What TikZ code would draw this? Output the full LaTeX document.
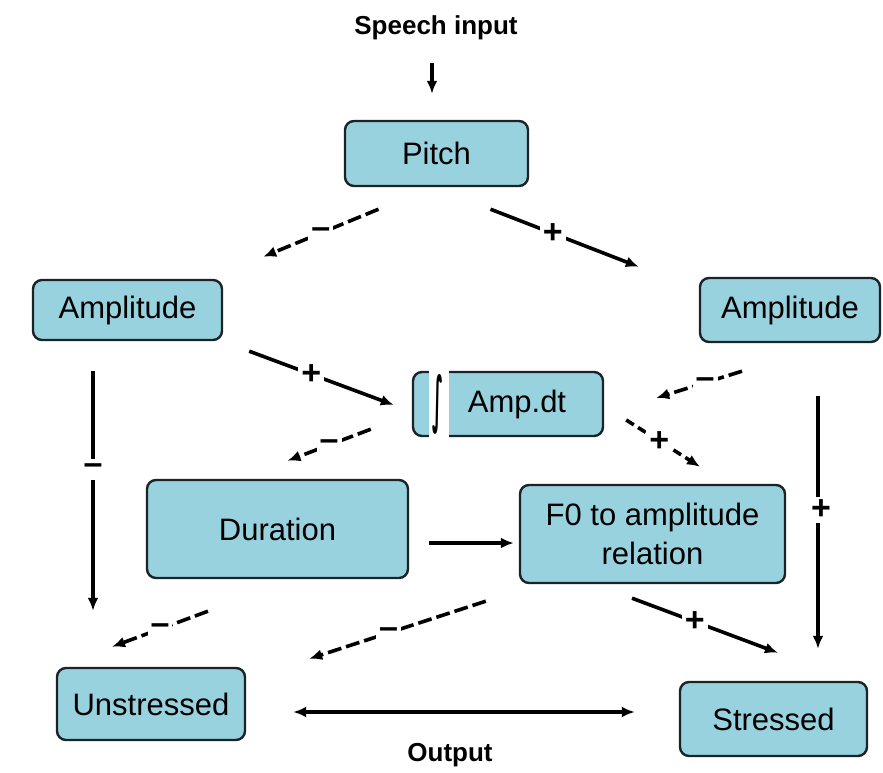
\documentclass[tikz,border=0pt]{standalone}
\usepackage{fontspec}
\setmainfont{Liberation Sans}
\newfontfamily\djvfont{DejaVu Sans Bold}
\usetikzlibrary{arrows.meta,calc}
\definecolor{boxfill}{RGB}{152,210,222}
\definecolor{boxline}{RGB}{25,35,40}
\begin{document}
\begin{tikzpicture}[x=1pt,y=1pt,
  box/.style={draw=boxline, fill=boxfill, line width=2.4pt, rounded corners=9pt,
    font=\fontsize{31}{39}\selectfont, inner sep=0pt, align=center},
  conn/.style={line width=3.6pt, draw=black, -{Latex[length=13pt,width=11pt]}},
  dsh/.style={conn, dash pattern=on 14pt off 5pt},
  sgn/.style={fill=white, inner sep=3pt, font=\bfseries\fontsize{34}{34}\selectfont},
  title/.style={inner sep=0pt, font=\bfseries\fontsize{26}{30}\selectfont}]
\useasboundingbox (0,0) rectangle (883,773);

% titles
\node[title] (speech) at (436,745) {Speech input};
\node[title] (output) at (450,18) {Output};

% boxes
\node[box, minimum width=183pt, minimum height=65pt] (pitch) at (436.5,619.5) {Pitch};
\node[box, minimum width=189pt, minimum height=60pt] (ampL) at (127.5,463) {Amplitude};
\node[box, minimum width=180pt, minimum height=64pt] (ampR) at (790,463) {Amplitude};
\node[box, minimum width=190pt, minimum height=64pt] (ampdt) at (508,369) {\hspace*{18pt}Amp.dt};
\node[box, minimum width=261pt, minimum height=98pt] (dur) at (277.5,244) {Duration};
\node[box, minimum width=265pt, minimum height=98pt] (f0) at (652.5,239) {F0 to amplitude\\relation};
\node[box, minimum width=188pt, minimum height=72pt] (unst) at (151,69) {Unstressed};
\node[box, minimum width=187pt, minimum height=74pt] (stre) at (773.5,54) {Stressed};

% integral gap in Amp.dt box
\fill[white] ([shift={(17,-3)}]ampdt.south west) rectangle ([shift={(37,3)}]ampdt.north west);
\node[inner sep=0pt] (integ) at ([xshift=26pt]ampdt.west) {\resizebox{11pt}{46pt}{\djvfont ∫}};

% connectors
\draw[conn] ([shift={(-4,-22.5)}]speech.south) -- ([shift={(-4.5,26)}]pitch.north);
\draw[dsh] ([shift={(-58,-22)}]pitch.south) -- node[sgn]{–} ([shift={(40,22)}]ampL.north east);
\draw[conn] ([shift={(54,-22)}]pitch.south) -- node[sgn,pos=0.42]{+} ([shift={(-60,10)}]ampR.north west);
\draw[conn] ([shift={(26,-10)}]ampL.south east) -- node[sgn,pos=0.43]{+} ([shift={(-18,-1)}]ampdt.west);
\draw[dsh] ([shift={(-48,-28)}]ampR.south) -- node[sgn,pos=0.43]{–} ([shift={(52,6)}]ampdt.east);
\draw[dsh] ([shift={(-41,8)}]ampdt.south west) -- node[sgn]{–} ([shift={(10,18)}]dur.north);
\draw[conn, dash pattern=on 9pt off 5pt] ([shift={(22,-16)}]ampdt.east) -- node[sgn,pos=0.45]{+} ([shift={(47.5,17)}]f0.north);
\draw[conn] ([shift={(-34.5,-30)}]ampL.south) -- node[sgn,pos=0.41,inner sep=5pt]{–} ([shift={(-58,56)}]unst.north);
\draw[conn] ([shift={(28,-53)}]ampR.south) -- node[sgn,pos=0.45,xshift=3pt]{+} ([shift={(44.5,32)}]stre.north);
\draw[conn] ([shift={(20,-14)}]dur.east) -- ([shift={(-5,-9)}]f0.west);
\draw[dsh] ([shift={(-69.5,-32)}]dur.south) -- node[sgn]{–} ([shift={(-39,20)}]unst.north);
\draw[dsh] ([shift={(-33,-17)}]f0.south west) -- node[sgn,pos=0.55]{–} ([shift={(63,8)}]unst.north east);
\draw[conn] ([shift={(-20.5,-14)}]f0.south) -- node[sgn,pos=0.43]{+} ([shift={(4.5,28)}]stre.north);
\draw[line width=3.6pt, {Latex[length=13pt,width=11pt]}-{Latex[length=13pt,width=11pt]}] ([shift={(47,-8)}]unst.east) -- ([shift={(-44,7)}]stre.west);
\end{tikzpicture}
\end{document}
